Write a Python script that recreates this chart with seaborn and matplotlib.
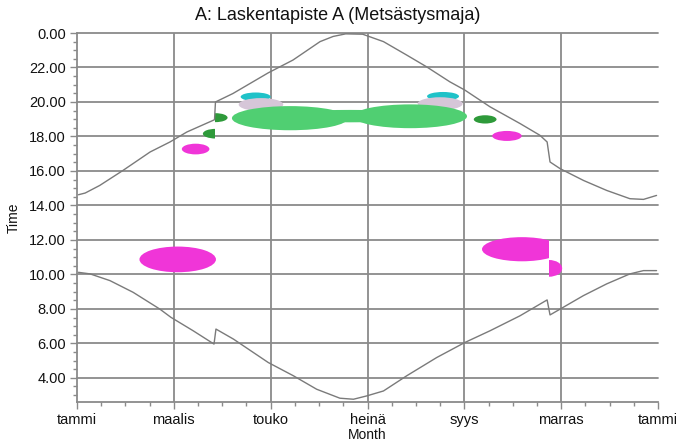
import matplotlib
matplotlib.use('Agg')
import matplotlib.pyplot as plt
import seaborn as sns
import pandas as pd
from matplotlib.patches import Ellipse, Rectangle
from matplotlib.ticker import FixedLocator, MultipleLocator

# ---------------- data ----------------
title = "A: Laskentapiste A (Metsästysmaja)"
month_ticks = [0, 2, 4, 6, 8, 10, 12]
month_labels = ["tammi", "maalis", "touko", "heinä", "syys", "marras", "tammi"]
hour_ticks = [4, 6, 8, 10, 12, 14, 16, 18, 20, 22, 24]

# sunset (upper curve), month as fractional months from 1 Jan
sunset_month = [0.03, 0.17, 0.47, 0.95, 1.51, 1.92, 2.27, 2.84, 2.86, 3.22, 3.95,
                4.46, 5.02, 5.29, 5.55, 5.90, 6.33, 6.81, 7.22, 7.70, 8.01, 8.53,
                9.15, 9.56, 9.71, 9.77, 9.98, 10.46, 10.94, 11.42, 11.70, 11.97]
sunset_hour = [14.62, 14.72, 15.16, 16.03, 17.10, 17.68, 18.26, 18.97, 20.00, 20.49, 21.69,
               22.43, 23.50, 23.80, 23.95, 23.93, 23.50, 22.72, 22.04, 21.17, 20.69, 19.72,
               18.75, 18.07, 17.68, 16.52, 16.13, 15.45, 14.87, 14.39, 14.35, 14.58]

# sunrise (lower curve)
sunrise_month = [0.03, 0.27, 0.68, 1.16, 1.71, 1.94, 2.40, 2.83, 2.87, 3.23, 3.95,
                 4.47, 4.95, 5.43, 5.71, 5.98, 6.33, 6.81, 7.43, 8.01, 8.53, 9.15,
                 9.71, 9.77, 9.98, 10.46, 10.94, 11.42, 11.70, 11.97]
sunrise_hour = [10.12, 10.03, 9.64, 8.96, 7.99, 7.51, 6.73, 5.96, 6.83, 6.25, 4.89,
                4.12, 3.34, 2.82, 2.76, 2.95, 3.24, 4.12, 5.18, 6.05, 6.73, 7.60,
                8.52, 7.65, 7.99, 8.77, 9.45, 10.03, 10.22, 10.22]

# activity blobs: centre month, centre hour, spread in months, spread in hours, colour, clip side
blob_month = [3.69, 7.56, 3.80, 7.50, 4.40, 6.88, 5.64, 2.86, 2.86, 8.43, 2.45, 8.88, 2.08, 9.19, 9.75]
blob_hour = [20.30, 20.33, 19.85, 19.90, 19.06, 19.17, 19.18, 19.09, 18.16, 18.99, 17.27, 18.03, 10.87, 11.46, 10.35]
blob_wmonth = [0.62, 0.66, 0.92, 0.93, 2.40, 2.35, 2.80, 0.50, 0.52, 0.47, 0.57, 0.61, 1.58, 1.65, 0.54]
blob_whour = [0.50, 0.50, 0.75, 0.75, 1.40, 1.38, 0.72, 0.52, 0.56, 0.48, 0.62, 0.58, 1.49, 1.40, 0.97]
blob_color = ["#1fc2c8", "#1fc2c8", "#d6c6d8", "#d6c6d8", "#50cf72", "#50cf72", "#50cf72",
              "#2e9a3a", "#2e9a3a", "#2e9a3a", "#f035d8", "#f035d8", "#f035d8", "#f035d8", "#f035d8"]
blob_clip = ["", "", "", "", "", "", "", "right", "left", "", "", "", "", "left", "right"]

# ---------------- figure ----------------
sns.set_theme(style="white")
plt.rcParams["font.family"] = ["Liberation Sans", "DejaVu Sans"]

W, H = 676, 446
fig = plt.figure(figsize=(W / 100, H / 100), dpi=100)
L, R, T, B = 77, 658, 33, 402
ax = fig.add_axes([L / W, 1 - B / H, (R - L) / W, (B - T) / H])
ax.set_xlim(0, 12)
ax.set_ylim(2.6, 24)

grid_c = "#8a8a8a"
for yv in hour_ticks:
    ax.axhline(yv, color=grid_c, lw=1.3, zorder=0, clip_on=False)
for xv in month_ticks[1:-1]:
    ax.axvline(xv, color=grid_c, lw=1.3, zorder=0)

# blobs
DST_SPRING = 2.86
DST_AUTUMN = 9.75
for mx, hy, wm, wh, c, clip in zip(blob_month, blob_hour, blob_wmonth, blob_whour, blob_color, blob_clip):
    e = Ellipse((mx, hy), wm, wh, facecolor=c, edgecolor="none", zorder=2)
    ax.add_patch(e)
    if clip:
        edge = DST_SPRING if mx < 6 else DST_AUTUMN
        if clip == "right":
            rect = Rectangle((edge, 0), 12, 30, transform=ax.transData)
        else:
            rect = Rectangle((edge - 12, 0), 12, 30, transform=ax.transData)
        e.set_clip_path(rect)

df_set = pd.DataFrame({"month": sunset_month, "hour": sunset_hour})
df_rise = pd.DataFrame({"month": sunrise_month, "hour": sunrise_hour})
sns.lineplot(data=df_set, x="month", y="hour", sort=False, estimator=None,
             color="#7a7a7a", lw=1.0, ax=ax, zorder=3)
sns.lineplot(data=df_rise, x="month", y="hour", sort=False, estimator=None,
             color="#7a7a7a", lw=1.0, ax=ax, zorder=3)

# axes styling
for s in ["top", "right"]:
    ax.spines[s].set_visible(False)
for s in ["left", "bottom"]:
    ax.spines[s].set_color(grid_c)
    ax.spines[s].set_linewidth(1.3)

ax.xaxis.set_major_locator(FixedLocator(month_ticks))
ax.set_xticklabels(month_labels)
ax.xaxis.set_minor_locator(MultipleLocator(0.5))
ax.yaxis.set_major_locator(FixedLocator(hour_ticks))
ax.set_yticklabels(["%.2f" % (h % 24) for h in hour_ticks])
ax.yaxis.set_minor_locator(MultipleLocator(0.5))
ax.tick_params(which="both", direction="out", color=grid_c, width=1.0,
               left=True, bottom=True, labelsize=10.5, labelcolor="#111111")
ax.tick_params(which="major", length=5, pad=3)
ax.tick_params(which="minor", length=3)

ax.set_xlabel("Month", fontsize=10, color="#111111")
ax.set_ylabel("Time", fontsize=10, color="#111111")
ax.xaxis.set_label_coords((367 - L) / (R - L), -(428 - B) / (B - T))
ax.yaxis.set_label_coords((21 - L) / (R - L), 0.5)

fig.text(0.5, 1 - 15 / H, title, ha="center", va="center", fontsize=13, color="#111111")

fig.savefig("out.png", dpi=100)
